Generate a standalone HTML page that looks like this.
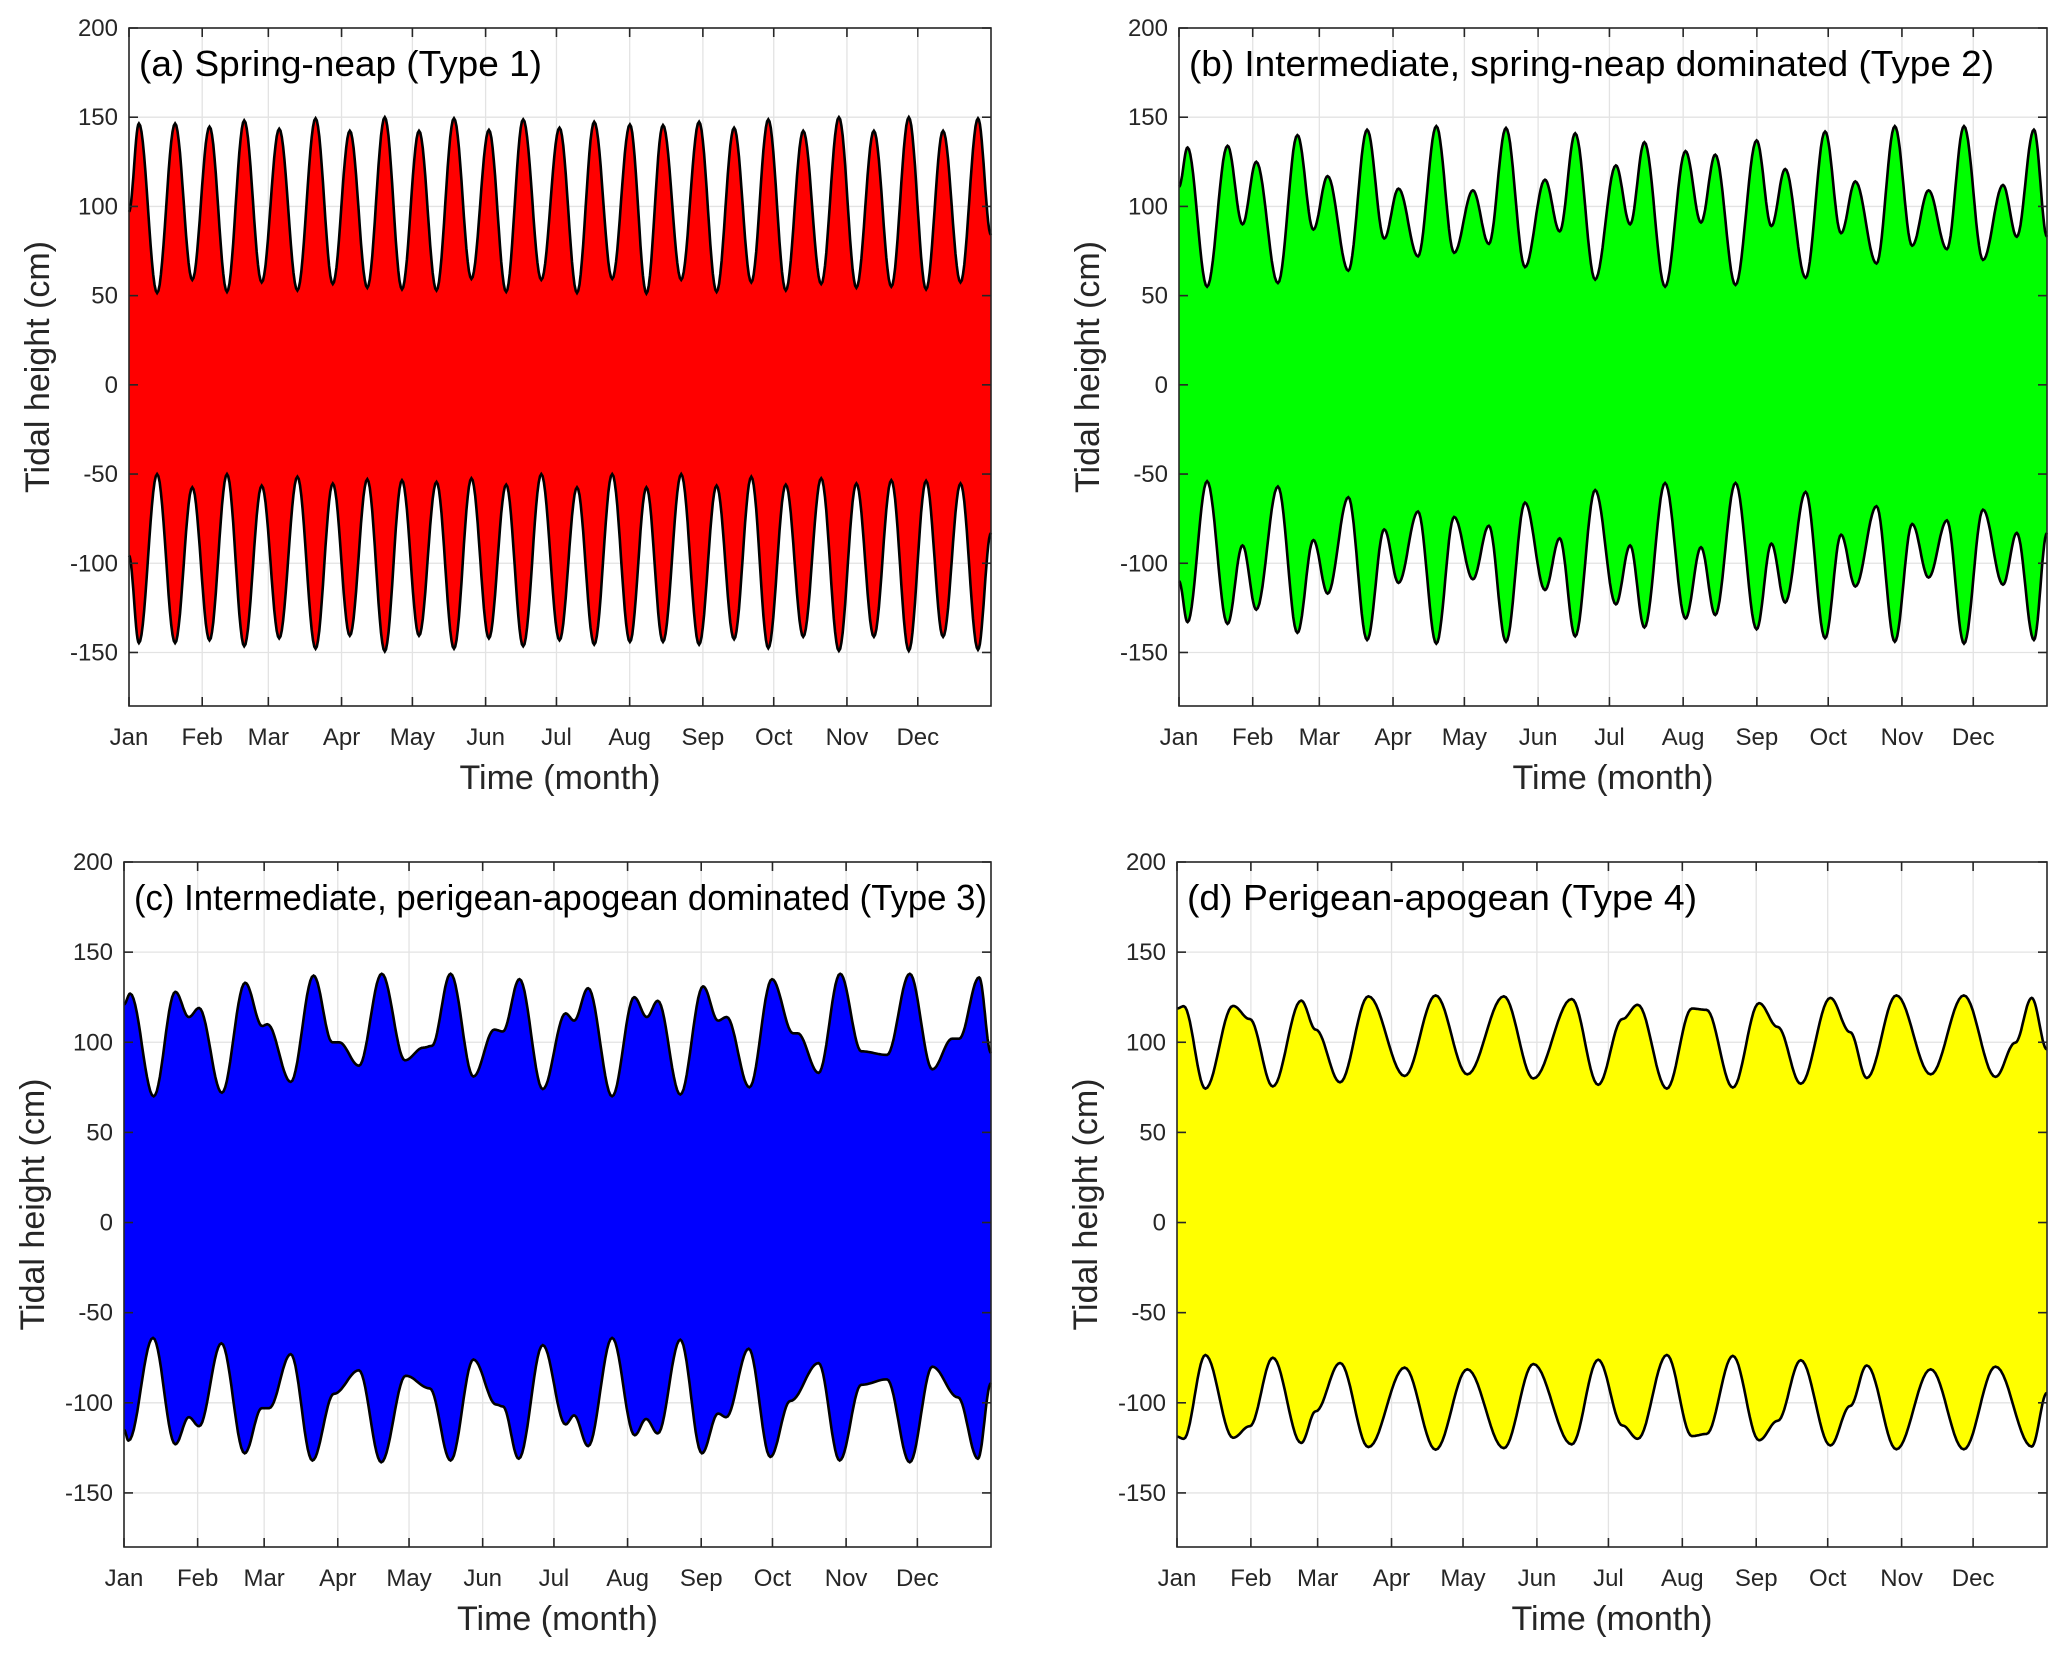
<!DOCTYPE html>
<html><head><meta charset="utf-8"><style>
html,body{margin:0;padding:0;background:#fff}
svg{display:block;font-family:"Liberation Sans",Arial,sans-serif}
</style></head><body>
<svg id="fig" width="2067" height="1653" viewBox="0 0 2067 1653" xmlns="http://www.w3.org/2000/svg"></svg>
<script>
// ---- shared axis data ----
const monthNames = ["Jan","Feb","Mar","Apr","May","Jun","Jul","Aug","Sep","Oct","Nov","Dec"];
const monthDays = [0,31,59,90,120,151,181,212,243,273,304,334];
const yTicks = [200,150,100,50,0,-50,-100,-150];

// ---- panel (a) spring-neap ----
const aUpT = [0,4.2,11.9,19.5,26.8,34.1,41.5,48.8,56.2,63.6,71.3,79.0,86.3,93.5,100.9,108.3,115.6,122.8,130.2,137.6,145.0,152.4,159.7,166.9,174.6,182.3,189.7,197.0,204.6,212.1,219.1,226.1,233.8,241.4,248.8,256.2,263.5,270.7,278.1,285.5,293.1,300.6,308.0,315.4,322.8,330.2,337.5,344.7,352.1,359.5,365];
const aUpV = [97,146.5,51.5,146.5,58.8,144.7,52.1,148.2,57.4,143.5,52.9,149.4,56.5,142.4,54.4,150,53.5,142.4,52.9,149.4,59.4,142.9,52.1,148.8,58.8,144.1,51.5,147.4,59.4,145.9,51.2,145.6,58.8,147.4,52.1,144.1,57.4,148.8,52.9,142.4,56.5,150,54.4,142.4,55,150,53.5,142.4,57.4,149.4,84];
const aLoV = [-95.6,-144.7,-50,-144.7,-57.4,-143.2,-50,-146.5,-56.5,-142.1,-51.5,-147.9,-55.3,-140.6,-52.9,-149.4,-53.5,-140.6,-54.4,-147.9,-52.4,-142.1,-55.9,-146.5,-50,-143.2,-57.4,-145.6,-50,-144.1,-57.4,-144.1,-50,-145.6,-56.5,-142.6,-51.5,-147.6,-55.9,-141.2,-52.4,-149.1,-55.3,-141.2,-53.5,-149.1,-53.8,-141.2,-55.3,-148.5,-83];

// ---- panel (b) intermediate, spring-neap dominated ----
const bT = [0,3.6,11.8,20.4,26.7,32.5,41.6,49.8,56.5,62.5,71.2,79.1,86.3,92.3,100.5,108.2,115.7,123.6,130.3,137.5,145.5,153.9,160.1,166.6,175.0,183.7,189.7,195.7,204.4,213.0,219.5,225.5,234.0,242.9,249.1,254.9,263.5,271.7,278.4,284.4,293.3,301.0,308.3,315.2,322.9,330.1,338.1,346.5,352.3,359.5,365];
const bUpV = [111,133,55,134,90,125,57,140,87,117,64,143,82,110,72,145,74,109,79,144,66,115,86,141,59,123,90,136,55,131,91,129,56,137,89,121,60,142,85,114,68,145,78,109,76,145,70,112,83,143,83];
const bLoV = [-110,-133,-54,-134,-90,-126,-57,-139,-87,-117,-63,-143,-81,-111,-71,-145,-74,-109,-79,-144,-66,-115,-86,-141,-59,-123,-90,-136,-55,-131,-91,-129,-55,-137,-89,-122,-60,-142,-84,-113,-68,-144,-78,-108,-76,-145,-70,-112,-83,-143,-83];

// ---- panel (c) intermediate, perigean-apogean dominated ----
const cUpT = [0,2.6,12.5,21.6,27.3,31.6,41.2,51.0,58.2,60.4,70.2,79.8,87.7,90.6,98.9,108.5,118.3,126.0,129.6,137.5,147.1,155.9,159.5,166.5,176.3,185.9,189.5,195.4,205.5,214.8,220.1,224.7,234.2,243.8,250.1,253.7,263.3,272.8,281.7,283.6,292.4,301.5,310.4,321.2,330.8,340.3,348.7,351.6,360.0,365];
const cUpV = [121,127,70,128,114,119,72,133,109,110,78,137,100,100,87,138,90,97,98,138,81,107,106,135,74,116,112,130,70,125,114,123,71,131,112,114,75,135,105,105,83,138,95,93,138,85,102,102,136,94];
const cLoT = [0,1.9,12.2,21.6,27.3,31.6,41.0,50.8,58.0,61.1,70.2,79.3,88.4,98.9,108.3,118.6,128.7,137.5,147.1,156.7,159.5,166.2,176.3,185.9,189.5,195.4,205.5,215.0,219.8,224.7,234.2,243.3,250.1,253.5,263.0,272.1,280.5,292.4,301.3,310.4,321.2,330.8,340.3,351.1,359.5,365];
const cLoV = [-115,-121,-64,-123,-108,-113,-67,-128,-103,-103,-73,-132,-95,-82,-133,-85,-92,-132,-76,-101,-102,-131,-68,-112,-107,-124,-64,-118,-109,-117,-65,-128,-106,-108,-70,-130,-99,-78,-132,-90,-87,-133,-80,-97,-131,-89];

// ---- panel (d) perigean-apogean ----
const dUpT = [0,2.8,11.9,23.5,30.5,40.2,52.1,58.2,68.4,80.3,95.5,108.5,121.8,137.1,149.5,165.6,176.7,186.9,193.3,205.5,216.0,222.1,233.2,244.2,252.0,261.7,274.1,282.4,289.4,301.8,316.2,330.1,343.4,351.7,358.6,365];
const dUpV = [118.7,120,74.3,120.2,112.9,75.5,123.1,107,77.8,125.5,81.3,126,82.2,125.5,79.9,124,76.4,112.9,120.8,74.3,118.7,118,74.9,121.7,108.5,77,124.6,105.6,80.2,126,82.2,126,80.8,99.8,124.6,96];
const dLoT = [0,2.8,11.9,23.5,30.5,40.2,52.1,58.2,68.4,80.3,95.5,108.5,121.8,137.1,149.5,165.6,176.7,186.9,193.3,205.5,216.0,222.1,233.2,244.2,252.0,261.7,274.1,282.4,289.4,301.8,316.2,330.1,343.4,358.6,365];
const dLoV = [-118.8,-120,-73.5,-119.4,-113,-75,-122.3,-104.7,-77.9,-124.6,-80.5,-126,-81.4,-125.2,-78.5,-123.1,-76.1,-112.6,-120,-73.5,-118.5,-117.3,-74,-120.8,-110,-76.4,-123.7,-101.8,-79.3,-125.8,-81.4,-125.8,-79.9,-124.3,-94.5];

const panels = [
  {id:"a", label:"(a) Spring-neap (Type 1)", lw:403, color:"#ff0000", L:129,R:991,T:28,B:706, upT:aUpT, upV:aUpV, loT:aUpT, loV:aLoV},
  {id:"b", label:"(b) Intermediate, spring-neap dominated (Type 2)", lw:805, color:"#00ff00", L:1179,R:2047,T:28,B:706, upT:bT, upV:bUpV, loT:bT, loV:bLoV},
  {id:"c", label:"(c) Intermediate, perigean-apogean dominated (Type 3)", lw:853, color:"#0000ff", L:124,R:991,T:862,B:1547, upT:cUpT, upV:cUpV, loT:cLoT, loV:cLoV},
  {id:"d", label:"(d) Perigean-apogean (Type 4)", lw:510, color:"#ffff00", L:1177,R:2047,T:862,B:1547, upT:dUpT, upV:dUpV, loT:dLoT, loV:dLoV}
];

const NS = "http://www.w3.org/2000/svg";
const svg = document.getElementById("fig");
function mk(tag, attrs, parent){
  const e = document.createElementNS(NS, tag);
  for (const k in attrs) e.setAttribute(k, attrs[k]);
  (parent||svg).appendChild(e);
  return e;
}
function curve(ts, vs){
  const pts = [];
  for (let i=0;i<ts.length-1;i++){
    const t0=ts[i],t1=ts[i+1],v0=vs[i],v1=vs[i+1];
    const n = 14;
    for (let k=0;k<n;k++){
      const f=k/n;
      pts.push([t0+(t1-t0)*f, v0+(v1-v0)*(1-Math.cos(Math.PI*f))/2]);
    }
  }
  pts.push([ts[ts.length-1], vs[vs.length-1]]);
  return pts;
}

panels.forEach(p=>{
  const g = mk("g",{});
  
  
  const xS = t => p.L + (t/365)*(p.R-p.L);
  const yS = v => p.B - (v+180)/380*(p.B-p.T);
  monthDays.forEach((d,i)=>{
    const ln = mk("line",{x1:xS(d),x2:xS(d),y1:p.T,y2:p.B,stroke:"#e3e3e3","stroke-width":1.3},g);
    
    
  });
  yTicks.forEach(v=>{
    const ln = mk("line",{x1:p.L,x2:p.R,y1:yS(v),y2:yS(v),stroke:"#e3e3e3","stroke-width":1.3},g);
    
    
  });
  const up = curve(p.upT, p.upV), lo = curve(p.loT, p.loV);
  let d = up.map((q,i)=>(i?"L":"M")+xS(q[0]).toFixed(1)+","+yS(q[1]).toFixed(1)).join("");
  d += lo.slice().reverse().map(q=>"L"+xS(q[0]).toFixed(1)+","+yS(q[1]).toFixed(1)).join("")+"Z";
  const fill = mk("path",{d:d,fill:p.color,stroke:"none"},g);
  
  
  const du = up.map((q,i)=>(i?"L":"M")+xS(q[0]).toFixed(1)+","+yS(q[1]).toFixed(1)).join("");
  const dl = lo.map((q,i)=>(i?"L":"M")+xS(q[0]).toFixed(1)+","+yS(q[1]).toFixed(1)).join("");
  const lu = mk("path",{d:du,fill:"none",stroke:"#000","stroke-width":2.6},g);
  
  
  const ll = mk("path",{d:dl,fill:"none",stroke:"#000","stroke-width":2.6},g);
  
  
  const box = mk("rect",{x:p.L,y:p.T,width:p.R-p.L,height:p.B-p.T,fill:"none",stroke:"#262626","stroke-width":1.6},g);
  
  
  monthDays.forEach((dd,i)=>{
    const x=xS(dd);
    mk("line",{x1:x,x2:x,y1:p.B,y2:p.B-9,stroke:"#262626","stroke-width":1.6},g);
    mk("line",{x1:x,x2:x,y1:p.T,y2:p.T+9,stroke:"#262626","stroke-width":1.6},g);
    const t = mk("text",{x:x,y:p.B+39,"font-size":24,"text-anchor":"middle",fill:"#262626"},g);
    t.textContent = monthNames[i];
    
    
  });
  yTicks.forEach(v=>{
    const y=yS(v);
    mk("line",{x1:p.L,x2:p.L+9,y1:y,y2:y,stroke:"#262626","stroke-width":1.6},g);
    mk("line",{x1:p.R,x2:p.R-9,y1:y,y2:y,stroke:"#262626","stroke-width":1.6},g);
    const t = mk("text",{x:p.L-11,y:y+8,"font-size":24,"text-anchor":"end",fill:"#262626"},g);
    t.textContent = String(v);
    
    
  });
  const xt = mk("text",{x:(p.L+p.R)/2,y:p.B+83,"font-size":34,"text-anchor":"middle",fill:"#262626"},g);
  xt.textContent = "Time (month)";
  
  
  const yc = (p.T+p.B)/2, yx = p.L-80;
  const yt = mk("text",{x:yx,y:yc,"font-size":34,"text-anchor":"middle",fill:"#262626",transform:`rotate(-90 ${yx} ${yc})`},g);
  yt.textContent = "Tidal height (cm)";
  
  
  const pl = mk("text",{x:p.L+10,y:p.T+48,"font-size":36,fill:"#000",textLength:p.lw,lengthAdjust:"spacingAndGlyphs"},g);
  pl.textContent = p.label;
  
  
});
</script>
</body></html>
